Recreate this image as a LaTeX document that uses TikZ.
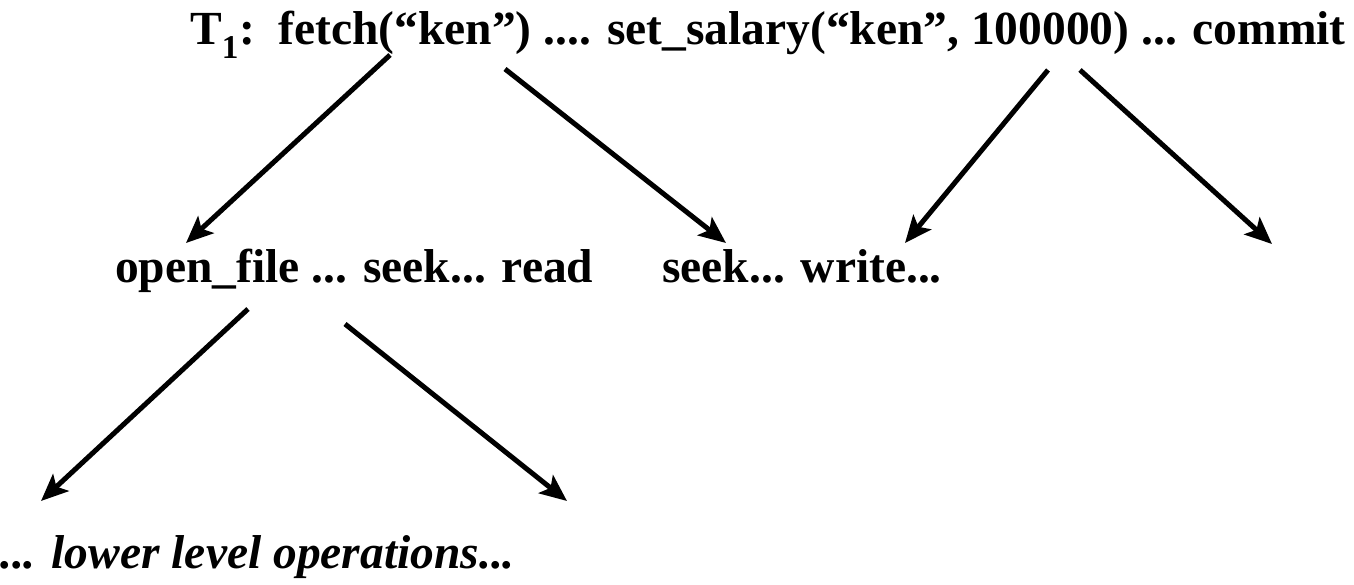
\documentclass[tikz,border=0pt]{standalone}
\usepackage{fontspec}
\setmainfont{Liberation Serif}
\usetikzlibrary{arrows.meta}

\begin{document}
\begin{tikzpicture}[x=1pt,y=-1pt,
  op/.style={anchor=base west,inner sep=0pt,font=\fontsize{47.5}{57}\selectfont\bfseries},
  arr/.style={-{Stealth[length=27pt,width=23pt,inset=6pt]},line width=5pt}]
  \useasboundingbox (0,0) rectangle (1354,585);
  % the three levels of operations
  \node[op] (txn) at (190,45) {T\textsubscript{1}:\ \ fetch(``ken'') .... set\_salary(``ken'', 100000) ... commit};
  \node[op] (rd) at (115,283) {open\_file ... seek... read};
  \node[op] (wr) at (662,283) {seek... write...};
  \node[op] (low) at (0,568) {\itshape ... lower level operations...};
  % arrow ends
  \coordinate (t1) at (390,55);   \coordinate (h1) at (186,243);
  \coordinate (t2) at (505,69);   \coordinate (h2) at (726,243);
  \coordinate (t3) at (1048,70);  \coordinate (h3) at (905,243);
  \coordinate (t4) at (1080,70);  \coordinate (h4) at (1272,244);
  \coordinate (t5) at (248,309);  \coordinate (h5) at (41,501);
  \coordinate (t6) at (345,324);  \coordinate (h6) at (567,501);
  \foreach \i in {1,...,6} {
    \draw[arr] (t\i) -- (h\i);
  }
\end{tikzpicture}
\end{document}
